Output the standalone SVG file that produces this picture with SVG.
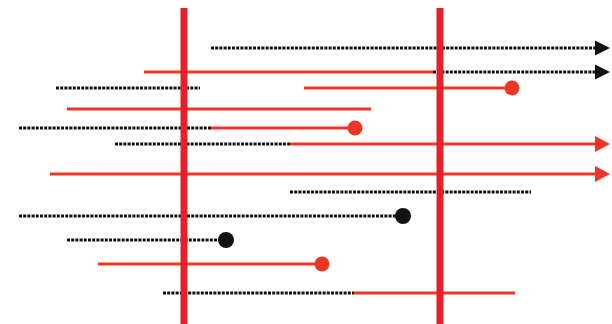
<svg xmlns="http://www.w3.org/2000/svg" width="612" height="324" viewBox="0 0 612 324">
<style>
.red{stroke:#ee3526;stroke-width:3;fill:none}
.dot{stroke:#111;stroke-width:3;stroke-dasharray:3 1.2;fill:none}
.bar{stroke:#e5202a;stroke-width:7}
.ah-k{fill:#111}
.ah-r{fill:#ee3526}
</style>
<rect width="612" height="324" fill="#fff"/>
<g id="connectors">
<line class="dot" x1="211" y1="48" x2="597" y2="48"/>
<polygon class="ah-k" points="595,40.5 610,48 595,55.5"/>
<line class="red" x1="144" y1="72" x2="433" y2="72"/>
<line class="dot" x1="433" y1="72" x2="597" y2="72"/>
<polygon class="ah-k" points="595,64.5 610,72 595,79.5"/>
<line class="dot" x1="56" y1="88" x2="200" y2="88"/>
<line class="red" x1="304" y1="88" x2="512" y2="88"/>
<circle cx="512" cy="88" r="7.5" fill="#ee3526"/>
<line class="red" x1="67" y1="109" x2="371" y2="109"/>
<line class="dot" x1="19" y1="128" x2="211" y2="128"/>
<line class="red" x1="211" y1="128" x2="355" y2="128"/>
<circle cx="355" cy="128" r="7.5" fill="#ee3526"/>
<line class="dot" x1="115" y1="144" x2="290" y2="144"/>
<line class="red" x1="290" y1="144" x2="597" y2="144"/>
<polygon class="ah-r" points="595,136 610,144 595,152"/>
<line class="red" x1="50" y1="174" x2="597" y2="174"/>
<polygon class="ah-r" points="595,166 610,174 595,182"/>
<line class="dot" x1="290" y1="192" x2="531" y2="192"/>
<line class="dot" x1="19" y1="216" x2="403" y2="216"/>
<circle cx="403" cy="216" r="8" fill="#111"/>
<line class="dot" x1="67" y1="240" x2="226" y2="240"/>
<circle cx="226" cy="240" r="8" fill="#111"/>
<line class="red" x1="98" y1="264" x2="322" y2="264"/>
<circle cx="322" cy="264" r="7.5" fill="#ee3526"/>
<line class="dot" x1="163" y1="293" x2="354" y2="293"/>
<line class="red" x1="354" y1="293" x2="515" y2="293"/>
</g>
<g id="bars">
<line class="bar" x1="184" y1="8" x2="184" y2="324"/>
<line class="bar" x1="440" y1="8" x2="440" y2="324"/>
</g>
</svg>
